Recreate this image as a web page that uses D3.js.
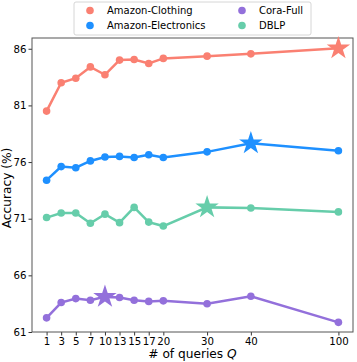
<!DOCTYPE html>
<html>
<head>
<meta charset="utf-8">
<script src="https://cdn.jsdelivr.net/npm/d3@7"></script>
<style>
  body { margin: 0; background: #fff; }
  svg { font-family: "DejaVu Sans", sans-serif; }
</style>
</head>
<body>
<svg width="357" height="362"></svg>
<script>
// x categories (number of queries) and their slot on the axis
var queries = [1, 3, 5, 7, 10, 13, 15, 17, 20, 30, 40, 100];
var slots = [0, 1, 2, 3, 4, 5, 6, 7, 8, 11, 14, 20];

// accuracy per dataset
var clothing = [80.5, 83.0, 83.4, 84.4, 83.7, 85.0, 85.05, 84.7, 85.15, 85.35, 85.55, 86.05];
var electronics = [74.4, 75.6, 75.5, 76.1, 76.45, 76.5, 76.4, 76.65, 76.4, 76.9, 77.65, 77.0];
var cora = [62.25, 63.6, 63.95, 63.8, 64.1, 64.05, 63.8, 63.7, 63.75, 63.5, 64.15, 61.85];
var dblp = [71.1, 71.5, 71.5, 70.6, 71.4, 70.65, 72.0, 70.7, 70.35, 72.0, 71.95, 71.6];

// index of best point (drawn as star)
var bestIdx = { clothing: 11, electronics: 10, cora: 4, dblp: 9 };

var yTicks = [61, 66, 71, 76, 81, 86];

var series = [
    { key: "clothing", name: "Amazon-Clothing", color: "#FA8072", values: clothing },
    { key: "electronics", name: "Amazon-Electronics", color: "#1E90FF", values: electronics },
    { key: "cora", name: "Cora-Full", color: "#9370DB", values: cora },
    { key: "dblp", name: "DBLP", color: "#66CDAA", values: dblp }
];

var svg = d3.select("svg");
var mLeft = 32, mRight = 353, mTop = 38, mBottom = 332;

var x = d3.scaleLinear().domain([-1, 21]).range([mLeft, mRight]);
var y = d3.scaleLinear().domain([61, 86.95]).range([mBottom, mTop]);

// axes
var xAxis = d3.axisBottom(x)
    .tickValues(slots)
    .tickFormat((d, i) => queries[i])
    .tickSize(3.5)
    .tickPadding(2);
var yAxis = d3.axisLeft(y)
    .tickValues(yTicks)
    .tickSize(3.5)
    .tickPadding(2);

var gx = svg.append("g").attr("transform", "translate(0," + mBottom + ")").call(xAxis);
var gy = svg.append("g").attr("transform", "translate(" + mLeft + ",0)").call(yAxis);
[gx, gy].forEach(g => {
    g.select(".domain").remove();
    g.selectAll("line").attr("stroke", "#000").attr("stroke-width", 0.8);
    g.selectAll("text").attr("font-size", 10.2).attr("fill", "#000")
        .attr("font-family", "DejaVu Sans, sans-serif");
});

// frame
svg.append("rect")
    .attr("x", mLeft).attr("y", mTop)
    .attr("width", mRight - mLeft).attr("height", mBottom - mTop)
    .attr("fill", "none").attr("stroke", "#555").attr("stroke-width", 1);

// lines + markers
var line = d3.line().x((d, i) => x(slots[i])).y(d => y(d));
var star = d3.symbol().type(d3.symbolStar).size(170);

series.forEach(s => {
    var g = svg.append("g");
    g.append("path")
        .datum(s.values)
        .attr("d", line)
        .attr("fill", "none")
        .attr("stroke", s.color)
        .attr("stroke-width", 2.5);
    s.values.forEach((v, i) => {
        if (i == bestIdx[s.key]) {
            g.append("path")
                .attr("d", star)
                .attr("transform", "translate(" + x(slots[i]) + "," + y(v) + ")")
                .attr("fill", s.color);
        } else {
            g.append("circle")
                .attr("cx", x(slots[i]))
                .attr("cy", y(v))
                .attr("r", 3.8)
                .attr("fill", s.color);
        }
    });
});

// axis labels
svg.append("text")
    .attr("x", (mLeft + mRight) / 2)
    .attr("y", 358)
    .attr("text-anchor", "middle")
    .attr("font-size", 12.2)
    .html('# of queries <tspan font-style="italic">Q</tspan>');

svg.append("text")
    .attr("transform", "translate(11,188) rotate(-90)")
    .attr("text-anchor", "middle")
    .attr("font-size", 12.2)
    .text("Accuracy (%)");

// legend
var legend = svg.append("g");
legend.append("rect")
    .attr("x", 74).attr("y", 2)
    .attr("width", 237).attr("height", 33)
    .attr("rx", 2)
    .attr("fill", "#fff")
    .attr("stroke", "#ccc")
    .attr("stroke-width", 0.8);

var legendPos = [[90, 10.5], [90, 25.5], [242, 10.5], [242, 25.5]];
series.forEach((s, i) => {
    var p = legendPos[i];
    legend.append("circle").attr("cx", p[0]).attr("cy", p[1]).attr("r", 3.8).attr("fill", s.color);
    legend.append("text")
        .attr("x", p[0] + 17)
        .attr("y", p[1] + 3.6)
        .attr("font-size", 10)
        .text(s.name);
});
</script>
</body>
</html>
